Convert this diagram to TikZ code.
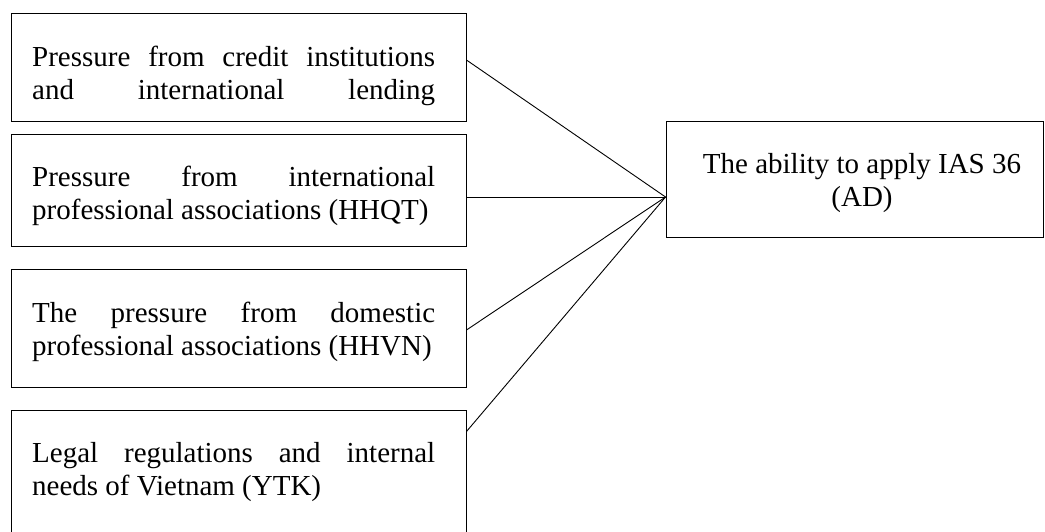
\documentclass[tikz,border=0pt]{standalone}
\usepackage{fontspec}
\setmainfont{Liberation Serif}
\begin{document}
\begin{tikzpicture}[x=1pt,y=-1pt,
  box/.style={draw=black,line width=0.9pt,rectangle,inner sep=0pt},
  txt/.style={anchor=base west,inner sep=0pt,font=\fontsize{29}{33}\selectfont},
  ctxt/.style={anchor=base,inner sep=0pt,font=\fontsize{29}{33}\selectfont},
  link/.style={draw=black,line width=0.9pt}]
\useasboundingbox (0,0) rectangle (1045,531);
\clip (0,0) rectangle (1045,531);
% boxes
\node[box,minimum width=455pt,minimum height=108pt] (b1) at (238.5,67) {};
\node[box,minimum width=455pt,minimum height=112pt] (b2) at (238.5,190) {};
\node[box,minimum width=455pt,minimum height=118pt] (b3) at (238.5,328) {};
\node[box,minimum width=455pt,minimum height=160pt] (b4) at (238.5,490) {};
\node[box,minimum width=377pt,minimum height=116pt] (ad) at (854.5,179) {};
% texts
\node[txt] (t1a) at (32,66.5) {\makebox[403pt][s]{Pressure from credit institutions}};
\node[txt] (t1b) at (32,99.5) {\makebox[403pt][s]{and international lending}};
\node[txt] (t2a) at (32,186.5) {\makebox[403pt][s]{Pressure from international}};
\node[txt] (t2b) at (32,219) {professional associations (HHQT)};
\node[txt] (t3a) at (32,322.5) {\makebox[403pt][s]{The pressure from domestic}};
\node[txt] (t3b) at (32,355) {professional associations (HHVN)};
\node[txt] (t4a) at (32,462) {\makebox[403pt][s]{Legal regulations and internal}};
\node[txt] (t4b) at (32,495) {needs of Vietnam (YTK)};
\node[ctxt] (tada) at (862,173) {The ability to apply IAS 36};
\node[ctxt] (tadb) at (862,206) {(AD)};
% connectors
\coordinate (hub) at ([yshift=-18pt]ad.west);
\draw[link] ([yshift=7pt]b1.east) -- (hub);
\draw[link] ([yshift=-7pt]b2.east) -- (hub);
\draw[link] ([yshift=-2pt]b3.east) -- (hub);
\draw[link] ([yshift=-22pt]b4.north east) -- (hub);
\end{tikzpicture}
\end{document}
